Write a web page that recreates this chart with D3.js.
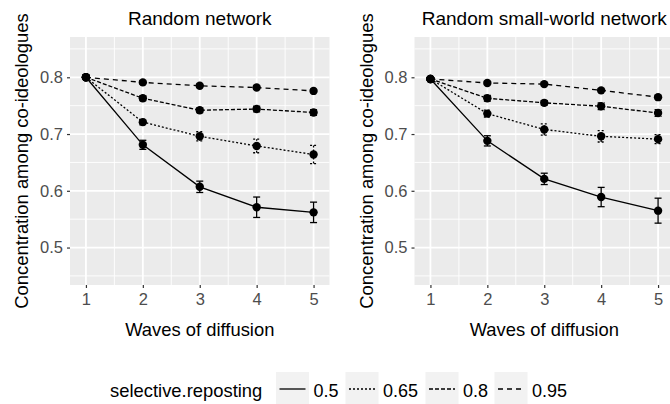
<!DOCTYPE html>
<html>
<head>
<meta charset="utf-8">
<script src="https://cdn.jsdelivr.net/npm/d3@7"></script>
<style>
  body { margin: 0; background: #fff; }
  text { font-family: "Liberation Sans", Arial, sans-serif; }
</style>
</head>
<body>
<svg id="chart"></svg>
<script>
// --- Data ---
const waves = [1, 2, 3, 4, 5];
const reposting = ["0.5", "0.65", "0.8", "0.95"];
const yTicks = [0.5, 0.6, 0.7, 0.8];

// Random network: means and error half-widths, one row per reposting level
const randomMean = [
  [0.800, 0.681, 0.607, 0.571, 0.562],
  [0.800, 0.721, 0.696, 0.679, 0.664],
  [0.800, 0.763, 0.742, 0.744, 0.738],
  [0.800, 0.791, 0.785, 0.782, 0.776]
];
const randomErr = [
  [0.002, 0.008, 0.010, 0.018, 0.018],
  [0.002, 0.005, 0.008, 0.012, 0.016],
  [0.002, 0.004, 0.004, 0.005, 0.005],
  [0.002, 0.003, 0.003, 0.003, 0.003]
];

// Random small-world network
const smallWorldMean = [
  [0.797, 0.688, 0.621, 0.589, 0.565],
  [0.797, 0.736, 0.708, 0.696, 0.691],
  [0.797, 0.763, 0.755, 0.749, 0.737],
  [0.797, 0.790, 0.788, 0.777, 0.765]
];
const smallWorldErr = [
  [0.002, 0.009, 0.010, 0.017, 0.022],
  [0.002, 0.006, 0.010, 0.010, 0.008],
  [0.002, 0.005, 0.004, 0.006, 0.006],
  [0.002, 0.003, 0.003, 0.003, 0.003]
];

const width = 670;
const height = 404;
const dashes = [null, "2,2", "4,2", "5,4"];

const svg = d3.select("#chart")
  .attr("width", width)
  .attr("height", height);

const y = d3.scaleLinear().domain([0.434, 0.871]).range([285, 37]);

function drawPanel(title, left, right, means, errs) {
  const x = d3.scaleLinear().domain([0.72, 5.28]).range([left, right]);
  const g = svg.append("g");

  g.append("rect")
    .attr("x", left).attr("y", 37)
    .attr("width", right - left).attr("height", 248)
    .attr("fill", "#ebebeb");

  // minor grid
  const yMinor = [0.45, 0.55, 0.65, 0.75, 0.85];
  const xMinor = [1.5, 2.5, 3.5, 4.5];
  g.selectAll(".ymin").data(yMinor).join("line")
    .attr("x1", left).attr("x2", right)
    .attr("y1", d => y(d)).attr("y2", d => y(d))
    .attr("stroke", "#fff").attr("stroke-width", 0.9);
  g.selectAll(".xmin").data(xMinor).join("line")
    .attr("y1", 37).attr("y2", 285)
    .attr("x1", d => x(d)).attr("x2", d => x(d))
    .attr("stroke", "#fff").attr("stroke-width", 0.9);

  // major grid
  g.selectAll(".ymaj").data(yTicks).join("line")
    .attr("x1", left).attr("x2", right)
    .attr("y1", d => y(d)).attr("y2", d => y(d))
    .attr("stroke", "#fff").attr("stroke-width", 1.8);
  g.selectAll(".xmaj").data(waves).join("line")
    .attr("y1", 37).attr("y2", 285)
    .attr("x1", d => x(d)).attr("x2", d => x(d))
    .attr("stroke", "#fff").attr("stroke-width", 1.8);

  // axes
  const xAxis = g.append("g")
    .attr("transform", "translate(0,285)")
    .call(d3.axisBottom(x).tickValues(waves).tickSize(3).tickPadding(5).tickFormat(d3.format("d")));
  const yAxis = g.append("g")
    .attr("transform", `translate(${left},0)`)
    .call(d3.axisLeft(y).tickValues(yTicks).tickSize(3).tickPadding(4).tickFormat(d3.format(".1f")));
  [xAxis, yAxis].forEach(a => {
    a.select(".domain").remove();
    a.selectAll("line").attr("stroke", "#333").attr("stroke-width", 1.2);
    a.selectAll("text").attr("fill", "#4d4d4d").attr("font-size", 16.5);
  });

  // series
  const line = d3.line().x((d, i) => x(waves[i])).y(d => y(d));
  means.forEach((vals, s) => {
    g.append("path")
      .attr("d", line(vals))
      .attr("fill", "none")
      .attr("stroke", "#000")
      .attr("stroke-width", 1.3)
      .attr("stroke-dasharray", dashes[s]);

    const eb = g.append("g")
      .attr("stroke", "#000")
      .attr("stroke-width", 1.3)
      .attr("stroke-dasharray", dashes[s]);
    vals.forEach((v, i) => {
      const cx = x(waves[i]);
      const lo = y(v - errs[s][i]);
      const hi = y(v + errs[s][i]);
      eb.append("line").attr("x1", cx).attr("x2", cx).attr("y1", lo).attr("y2", hi);
      eb.append("line").attr("x1", cx - 3.5).attr("x2", cx + 3.5).attr("y1", lo).attr("y2", lo);
      eb.append("line").attr("x1", cx - 3.5).attr("x2", cx + 3.5).attr("y1", hi).attr("y2", hi);
    });

    g.selectAll(null).data(vals).join("circle")
      .attr("cx", (d, i) => x(waves[i]))
      .attr("cy", d => y(d))
      .attr("r", 4.2)
      .attr("fill", "#000");
  });

  // titles
  const mid = (left + right) / 2;
  g.append("text")
    .attr("x", mid).attr("y", 25)
    .attr("text-anchor", "middle")
    .attr("font-size", 19)
    .attr("fill", "#000")
    .text(title);
  g.append("text")
    .attr("x", mid).attr("y", 336)
    .attr("text-anchor", "middle")
    .attr("font-size", 18.4)
    .attr("fill", "#000")
    .text("Waves of diffusion");
  g.append("text")
    .attr("transform", `translate(${left - 42},161) rotate(-90)`)
    .attr("text-anchor", "middle")
    .attr("font-size", 18.4)
    .attr("fill", "#000")
    .text("Concentration among co-ideologues");
}

drawPanel("Random network", 70, 329.5, randomMean, randomErr);
drawPanel("Random small-world network", 414.5, 674, smallWorldMean, smallWorldErr);

// --- Legend ---
const legend = svg.append("g");
legend.append("text")
  .attr("x", 110).attr("y", 397)
  .attr("font-size", 18.4)
  .attr("fill", "#000")
  .text("selective.reposting");

const keyX = [276, 345.5, 425.5, 494.5];
reposting.forEach((lab, i) => {
  const kx = keyX[i];
  legend.append("rect")
    .attr("x", kx).attr("y", 372)
    .attr("width", 33).attr("height", 34)
    .attr("fill", "#f2f2f2");
  legend.append("line")
    .attr("x1", kx + 3.5).attr("x2", kx + 29.5)
    .attr("y1", 389).attr("y2", 389)
    .attr("stroke", "#000")
    .attr("stroke-width", 1.3)
    .attr("stroke-dasharray", dashes[i]);
  legend.append("text")
    .attr("x", kx + 37.5).attr("y", 397)
    .attr("font-size", 18)
    .attr("fill", "#000")
    .text(lab);
});
</script>
</body>
</html>
